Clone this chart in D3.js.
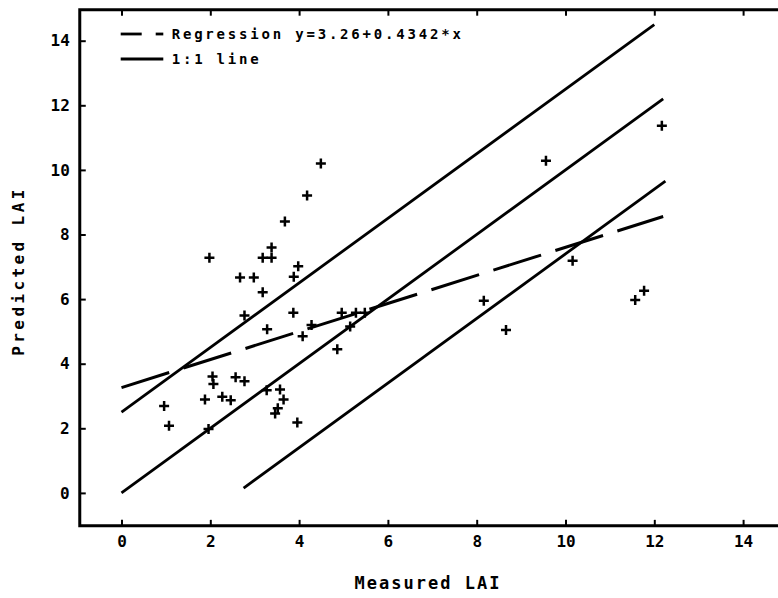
<!DOCTYPE html>
<html><head><meta charset="utf-8">
<script src="https://cdn.jsdelivr.net/npm/d3@7"></script>
<style>
html,body{margin:0;padding:0;background:#fff;}
svg{display:block;}
text{font-family:"DejaVu Sans Mono",monospace;font-weight:bold;fill:#000;}
</style></head><body>
<svg id="c" width="778" height="598"></svg>
<script>
// Measured LAI (x) and predicted LAI (y) of the scatter points
const measured = [0.96,1.07,1.96,1.88,2.07,2.05,2.27,2.46,2.57,2.77,3.27,3.57,3.65,3.52,3.46,3.96,
  1.98,2.67,2.98,3.18,3.18,3.38,3.38,3.68,4.18,4.49,3.98,3.88,3.87,2.77,3.28,4.28,4.08,4.86,
  4.96,5.28,5.48,5.15,9.56,10.16,8.16,8.66,11.57,11.77,12.17];
const predicted = [2.69,2.08,1.98,2.89,3.37,3.60,2.98,2.87,3.58,3.46,3.18,3.20,2.89,2.62,2.46,2.18,
  7.28,6.67,6.67,6.21,7.28,7.28,7.60,8.40,9.21,10.20,7.02,6.69,5.58,5.49,5.07,5.20,4.85,4.45,
  5.58,5.58,5.58,5.15,10.28,7.19,5.95,5.04,5.97,6.26,11.37];
const xTicks = [0,2,4,6,8,10,12,14];
const yTicks = [0,2,4,6,8,10,12,14];
const regIntercept = 3.26, regSlope = 0.4342;
const regRange = [0, 12.2];
// 1:1 line and two parallel lines offset by +2.5 / -2.6
const refLines = [
  {offset: 0,    from: 0,    to: 12.2},
  {offset: 2.5,  from: 0,    to: 12.0},
  {offset: -2.6, from: 2.75, to: 12.25}
];
const legendLabels = ["Regression y=3.26+0.4342*x", "1:1 line"];
const xTitle = "Measured LAI", yTitle = "Predicted LAI";

const svg = d3.select("#c");
const x = d3.scaleLinear().domain([0,14]).range([121.5, 743.1]);
const y = d3.scaleLinear().domain([0,14]).range([492.9, 40.7]);
const xL = x(-0.94), xR = x(15), yT = y(14.96), yB = y(-1.02);

// axes with inward ticks
const gB = svg.append("g").attr("transform",`translate(0,${yB})`)
  .call(d3.axisBottom(x).tickValues(xTicks).tickSize(-6).tickPadding(10).tickFormat(d3.format("d")));
const gT = svg.append("g").attr("transform",`translate(0,${yT})`)
  .call(d3.axisTop(x).tickValues(xTicks).tickSize(-6).tickFormat(""));
const gL = svg.append("g").attr("transform",`translate(${xL},0)`)
  .call(d3.axisLeft(y).tickValues(yTicks).tickSize(-6).tickPadding(10).tickFormat(d3.format("d")));
[gB,gT,gL].forEach(g=>{
  g.select(".domain").remove();
  g.selectAll(".tick line").attr("stroke","#000").attr("stroke-width",2);
  g.selectAll("text").style("font-size","16px").style("font-family","DejaVu Sans Mono").style("font-weight","bold");
});

// frame
svg.append("path")
  .attr("d",`M${xR},${yT}H${xL}V${yB}H${xR}`)
  .attr("fill","none").attr("stroke","#000").attr("stroke-width",3);

// reference lines
const line = d3.line().x(d=>x(d[0])).y(d=>y(d[1]));
refLines.forEach(r=>{
  svg.append("path")
    .attr("d", line([[r.from, r.from + r.offset],[r.to, r.to + r.offset]]))
    .attr("fill","none").attr("stroke","#000").attr("stroke-width",2.8);
});
// regression line
svg.append("path")
  .attr("d", line(regRange.map(v=>[v, regIntercept + regSlope*v])))
  .attr("fill","none").attr("stroke","#000").attr("stroke-width",3)
  .attr("stroke-dasharray","50,15");

// points as + marks
svg.append("g").selectAll("path").data(measured.map((m,i)=>[m,predicted[i]])).join("path")
  .attr("d", d=>{const px=x(d[0]), py=y(d[1]); return `M${px-5},${py}h10M${px},${py-5}v10`;})
  .attr("stroke","#000").attr("stroke-width",2.5).attr("fill","none");

// legend
const lg = svg.append("g");
lg.append("line").attr("x1",120.7).attr("x2",141.7).attr("y1",34).attr("y2",34).attr("stroke","#000").attr("stroke-width",2.8);
lg.append("line").attr("x1",155.7).attr("x2",163.3).attr("y1",34).attr("y2",34).attr("stroke","#000").attr("stroke-width",2.8);
lg.append("line").attr("x1",120.7).attr("x2",163.3).attr("y1",59).attr("y2",59).attr("stroke","#000").attr("stroke-width",2.8);
lg.selectAll("text").data(legendLabels).join("text")
  .attr("x",171.7).attr("y",(d,i)=>i===0?34:59).attr("dominant-baseline","central")
  .style("font-size","14px").style("letter-spacing","2.8px").text(d=>d);

// titles
svg.append("text").attr("x",428).attr("y",583).attr("text-anchor","middle").attr("dominant-baseline","central")
  .style("font-size","17px").style("letter-spacing","2px").text(xTitle);
svg.append("text").attr("transform","translate(18,271) rotate(-90)").attr("text-anchor","middle")
  .attr("dominant-baseline","central").style("font-size","16px").style("letter-spacing","3.4px").text(yTitle);
</script></body></html>
